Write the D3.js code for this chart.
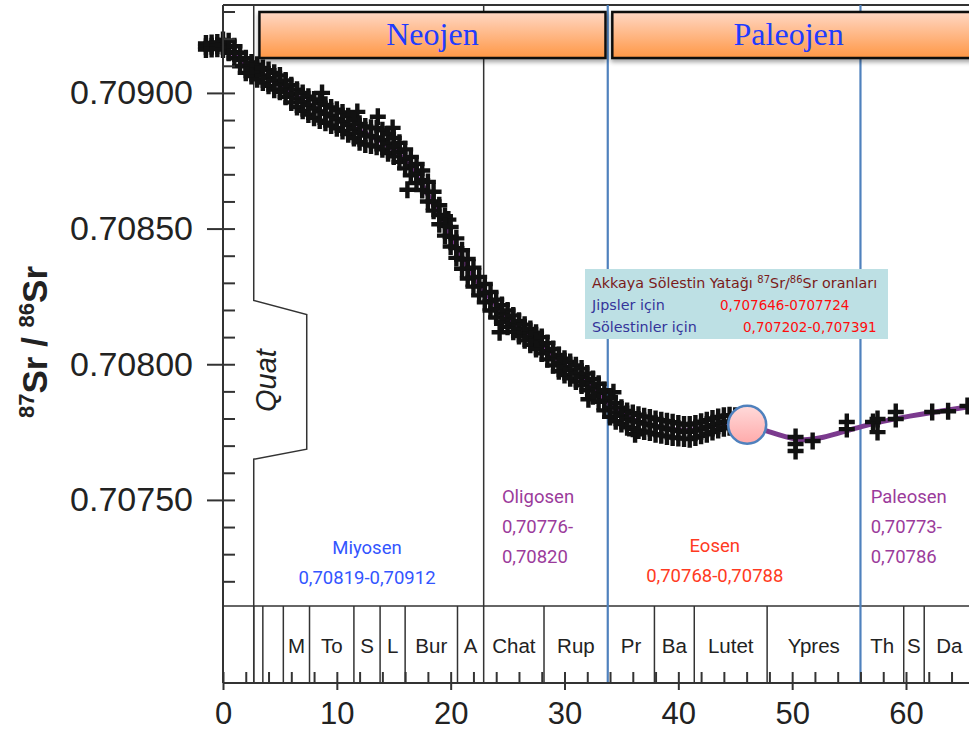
<!DOCTYPE html>
<html>
<head>
<meta charset="utf-8">
<script src="https://cdn.jsdelivr.net/npm/d3@7"></script>
<style>
  body { margin: 0; background: #fff; }
  svg { display: block; }
</style>
</head>
<body>
<svg id="chart" width="969" height="733"></svg>
<script>
// ages in Ma, ratios 87Sr/86Sr
var samples = [
  [-1.5, 0.709182, 0.709170, 0.709160], [-1.0, 0.709184, 0.709172, 0.709162], [-0.5, 0.709186, 0.709174, 0.709163],
  [0.0, 0.709195, 0.709176, 0.709160], [0.5, 0.709190, 0.709168, 0.709148], [1.0, 0.709172, 0.709150, 0.709128],
  [1.5, 0.709148, 0.709122, 0.709098], [2.0, 0.709128, 0.709100, 0.709074], [2.5, 0.709112, 0.709088, 0.709062],
  [3.0, 0.709104, 0.709076, 0.709050], [3.5, 0.709092, 0.709064, 0.709038], [4.0, 0.709084, 0.709055, 0.709026],
  [4.5, 0.709074, 0.709046, 0.709012], [5.0, 0.709064, 0.709034, 0.709004], [5.5, 0.709046, 0.709016, 0.708986],
  [6.0, 0.709028, 0.708997, 0.708965], [6.5, 0.709012, 0.708980, 0.708948], [7.0, 0.709000, 0.708967, 0.708934],
  [7.5, 0.708986, 0.708954, 0.708920], [8.0, 0.708976, 0.708942, 0.708908], [8.5, 0.708964, 0.708932, 0.708898],
  [9.0, 0.708956, 0.708923, 0.708890], [9.5, 0.708946, 0.708914, 0.708880], [10.0, 0.708938, 0.708904, 0.708870],
  [10.5, 0.708928, 0.708894, 0.708860], [11.0, 0.708914, 0.708882, 0.708848], [11.5, 0.708900, 0.708867, 0.708834],
  [12.0, 0.708886, 0.708852, 0.708818], [12.5, 0.708876, 0.708843, 0.708810], [13.0, 0.708872, 0.708840, 0.708806],
  [13.5, 0.708870, 0.708836, 0.708802], [14.0, 0.708862, 0.708826, 0.708792], [14.5, 0.708848, 0.708813, 0.708778],
  [15.0, 0.708834, 0.708800, 0.708766], [15.5, 0.708816, 0.708782, 0.708746], [16.0, 0.708792, 0.708757, 0.708722],
  [16.5, 0.708764, 0.708730, 0.708696], [17.0, 0.708738, 0.708702, 0.708668], [17.5, 0.708714, 0.708678, 0.708642],
  [18.0, 0.708672, 0.708635, 0.708600], [18.5, 0.708636, 0.708600, 0.708566], [19.0, 0.708586, 0.708550, 0.708516],
  [19.5, 0.708546, 0.708510, 0.708474], [20.0, 0.708506, 0.708470, 0.708434], [20.5, 0.708464, 0.708428, 0.708392],
  [21.0, 0.708420, 0.708386, 0.708352], [21.5, 0.708388, 0.708352, 0.708316], [22.0, 0.708356, 0.708320, 0.708286],
  [22.5, 0.708322, 0.708288, 0.708254], [23.0, 0.708296, 0.708262, 0.708228], [23.5, 0.708266, 0.708232, 0.708198],
  [24.0, 0.708238, 0.708205, 0.708172], [24.5, 0.708218, 0.708187, 0.708156], [25.0, 0.708198, 0.708168, 0.708138],
  [25.5, 0.708180, 0.708150, 0.708120], [26.0, 0.708160, 0.708132, 0.708104], [26.5, 0.708146, 0.708117, 0.708088],
  [27.0, 0.708130, 0.708101, 0.708072], [27.5, 0.708116, 0.708086, 0.708056], [28.0, 0.708100, 0.708070, 0.708040],
  [28.5, 0.708078, 0.708048, 0.708018], [29.0, 0.708056, 0.708025, 0.707996], [29.5, 0.708034, 0.708004, 0.707974],
  [30.0, 0.708020, 0.707990, 0.707960], [30.5, 0.708008, 0.707978, 0.707948], [31.0, 0.707996, 0.707966, 0.707936],
  [31.5, 0.707984, 0.707953, 0.707922], [32.0, 0.707966, 0.707935, 0.707904], [32.5, 0.707946, 0.707914, 0.707882],
  [33.0, 0.707928, 0.707895, 0.707862], [33.5, 0.707904, 0.707866, 0.707830], [34.0, 0.707878, 0.707840, 0.707806],
  [34.5, 0.707856, 0.707822, 0.707790], [35.0, 0.707840, 0.707810, 0.707780], [35.5, 0.707828, 0.707798, 0.707768],
  [36.0, 0.707820, 0.707792, 0.707762], [36.5, 0.707814, 0.707786, 0.707756], [37.0, 0.707808, 0.707781, 0.707752],
  [37.5, 0.707804, 0.707776, 0.707748], [38.0, 0.707798, 0.707771, 0.707742], [38.5, 0.707794, 0.707767, 0.707738],
  [39.0, 0.707790, 0.707762, 0.707734], [39.5, 0.707786, 0.707758, 0.707730], [40.0, 0.707782, 0.707754, 0.707728],
  [40.5, 0.707778, 0.707751, 0.707726], [41.0, 0.707778, 0.707751, 0.707724], [41.5, 0.707782, 0.707756, 0.707730],
  [42.0, 0.707788, 0.707762, 0.707736], [42.5, 0.707794, 0.707768, 0.707742], [43.0, 0.707800, 0.707775, 0.707750],
  [43.5, 0.707806, 0.707782, 0.707758], [44.0, 0.707810, 0.707787, 0.707764], [44.5, 0.707812, 0.707789, 0.707768],
  [45.0, 0.707810, 0.707790, 0.707770],
  [50.3, 0.707732, 0.707706, 0.707680], [51.8, 0.707717], [54.8, 0.707787, 0.707761],
  [57.1, 0.707787], [57.5, 0.707798, 0.707750], [59.1, 0.707824, 0.707798],
  [62.3, 0.707824], [63.7, 0.707827], [65.4, 0.707846]
];

// scattered measurements sticking out of the band
var strays = [
  [8.7, 0.709000], [11.8, 0.708930], [13.6, 0.708912], [14.9, 0.708871], [16.2, 0.708643],
  [19.8, 0.708533], [24.3, 0.708118], [32.1, 0.707871], [34.3, 0.707897], [36.2, 0.707742]
];

var trend = [
  [-1.5, 0.709172], [0, 0.709176], [1.5, 0.709122], [3, 0.709076], [5, 0.709034], [7, 0.708967],
  [9, 0.708923], [11, 0.708882], [13, 0.708840], [15, 0.708800], [17, 0.708702], [19, 0.708550],
  [21, 0.708386], [23, 0.708262], [25, 0.708168], [27, 0.708101], [29, 0.708025], [31, 0.707966],
  [33, 0.707895], [35, 0.707808], [37, 0.707781], [39, 0.707762], [41, 0.707751], [43, 0.707775],
  [44.5, 0.707789], [46.1, 0.707776], [47.8, 0.707754], [50.4, 0.707717], [52.5, 0.707724],
  [56, 0.707772], [60.1, 0.707809], [65.6, 0.707844]
];

var stageBounds = [2.7, 3.5, 5.3, 7.6, 11.5, 13.8, 16.0, 20.6, 22.9, 28.2, 33.8, 37.9, 41.4, 47.8, 56.0, 59.8, 61.6, 66.0];
var stageNames = ["", "", "M", "To", "S", "L", "Bur", "A", "Chat", "Rup", "Pr", "Ba", "Lutet", "Ypres", "Th", "S", "Da"];

var eras = [{ name: "Neojen", from: 3.2, to: 33.6 }, { name: "Paleojen", from: 34.2, to: 67 }];

var epochLabels = [
  { lines: ["Miyosen", "0,70819-0,70912"], at: 12.65, y: 0.707301, anchor: "middle", color: "#3355ff" },
  { lines: ["Oligosen", "0,70776-", "0,70820"], at: 24.5, y: 0.707489, anchor: "start", color: "#9b3b9b" },
  { lines: ["Eosen", "0,70768-0,70788"], at: 43.2, y: 0.707308, anchor: "middle", color: "#ff3a22" },
  { lines: ["Paleosen", "0,70773-", "0,70786"], at: 56.9, y: 0.707489, anchor: "start", color: "#9b3b9b" }
];

var sample = { age: 46.05, ratio: 0.707777 };

var yMajor = [0.7075, 0.7080, 0.7085, 0.7090];
var xMajor = [0, 10, 20, 30, 40, 50, 60];

var svg = d3.select("#chart");
var W = 969;
var plotLeft = 223, plotTop = 5, panelBottom = 606, axisY = 683;

var x = d3.scaleLinear().domain([0, 60]).range([plotLeft, 906]);
var y = d3.scaleLinear().domain([0.707109, 0.709324]).range([panelBottom, plotTop]);

var defs = svg.append("defs");
var eraGrad = defs.append("linearGradient").attr("id", "eraGrad").attr("x1", 0).attr("y1", 0).attr("x2", 0).attr("y2", 1);
eraGrad.append("stop").attr("offset", "0%").attr("stop-color", "#ffd7c4");
eraGrad.append("stop").attr("offset", "100%").attr("stop-color", "#ff9745");
var dotGrad = defs.append("linearGradient").attr("id", "dotGrad").attr("x1", 0).attr("y1", 0).attr("x2", 0).attr("y2", 1);
dotGrad.append("stop").attr("offset", "0%").attr("stop-color", "#ffdada");
dotGrad.append("stop").attr("offset", "100%").attr("stop-color", "#ffaaaa");
var shadow = defs.append("filter").attr("id", "shadow").attr("x", "-5%").attr("y", "-20%").attr("width", "110%").attr("height", "160%");
shadow.append("feDropShadow").attr("dx", 0).attr("dy", 3).attr("stdDeviation", 2).attr("flood-color", "#000").attr("flood-opacity", 0.35);

/* frame */
svg.append("line").attr("x1", plotLeft).attr("x2", W).attr("y1", plotTop).attr("y2", plotTop).attr("stroke", "#333").attr("stroke-width", 2);
svg.append("line").attr("x1", plotLeft).attr("x2", W).attr("y1", panelBottom).attr("y2", panelBottom).attr("stroke", "#333").attr("stroke-width", 1.5);

/* stage boundaries in the stage strip */
svg.append("g").selectAll("line")
  .data(stageBounds.filter(function(d) { return d !== 22.9 && d !== 33.8 && d !== 56.0; }))
  .enter().append("line")
  .attr("x1", function(d) { return x(d); }).attr("x2", function(d) { return x(d); })
  .attr("y1", panelBottom).attr("y2", axisY)
  .attr("stroke", "#333").attr("stroke-width", 1.5);

svg.append("g").selectAll("text")
  .data(stageNames.map(function(n, i) { return { name: n, a: stageBounds[i], b: stageBounds[i + 1] }; }))
  .enter().append("text")
  .attr("x", function(d) { return (x(d.a) + x(d.b)) / 2; })
  .attr("y", 653)
  .attr("text-anchor", "middle")
  .style("font", "20.5px 'Liberation Sans', Arial, sans-serif")
  .style("fill", "#222")
  .text(function(d) { return d.name; });

/* Quat bracket */
var q = x(2.7);
svg.append("path")
  .attr("d", "M" + q + "," + plotTop + "V" + y(0.708235) + "L" + (q + 53) + "," + y(0.708183) +
    "V" + y(0.707687) + "L" + q + "," + y(0.707650) + "V" + axisY)
  .attr("fill", "none").attr("stroke", "#333").attr("stroke-width", 1.5);
svg.append("text")
  .attr("transform", "translate(" + (q + 22) + "," + y(0.707940) + ") rotate(-90)")
  .attr("text-anchor", "middle")
  .style("font", "italic 29px 'Liberation Sans', Arial, sans-serif")
  .style("fill", "#222")
  .text("Quat");

/* epoch boundaries */
svg.append("line").attr("x1", x(22.9)).attr("x2", x(22.9)).attr("y1", plotTop).attr("y2", axisY)
  .attr("stroke", "#333").attr("stroke-width", 1.5);
svg.append("g").selectAll("line").data([33.8, 56.0]).enter().append("line")
  .attr("x1", function(d) { return x(d); }).attr("x2", function(d) { return x(d); })
  .attr("y1", plotTop).attr("y2", axisY)
  .attr("stroke", "#4f81bd").attr("stroke-width", 2.2);

/* smoothed trend */
svg.append("path")
  .datum(trend)
  .attr("d", d3.line().x(function(d) { return x(d[0]); }).y(function(d) { return y(d[1]); }).curve(d3.curveBasis))
  .attr("fill", "none").attr("stroke", "#7b3a8e").attr("stroke-width", 5);

/* crosses */
var points = strays.slice();
samples.forEach(function(r) {
  for (var i = 1; i < r.length; i++) points.push([r[0], r[i]]);
});
svg.append("g").selectAll("path")
  .data(points)
  .enter().append("path")
  .attr("transform", function(d) { return "translate(" + x(d[0]) + "," + y(d[1]) + ")"; })
  .attr("d", "M-8,0H8M0,-8.5V8.5")
  .attr("stroke", "#111").attr("stroke-width", 4.4).attr("fill", "none");

/* sample circle */
svg.append("circle")
  .attr("cx", x(sample.age)).attr("cy", y(sample.ratio)).attr("r", 19)
  .attr("fill", "url(#dotGrad)").attr("stroke", "#4f81bd").attr("stroke-width", 2.5);

/* era bars */
var era = svg.append("g").selectAll("g").data(eras).enter().append("g");
era.append("rect")
  .attr("x", function(d) { return x(d.from); })
  .attr("y", 12)
  .attr("width", function(d) { return x(d.to) - x(d.from); })
  .attr("height", 46)
  .attr("fill", "url(#eraGrad)")
  .attr("stroke", "#111").attr("stroke-width", 2.5)
  .attr("filter", "url(#shadow)");
era.append("text")
  .attr("x", function(d) { return (x(d.from) + Math.min(x(d.to), W + 12)) / 2 - (d.to > 60 ? 8 : 0); })
  .attr("y", 45)
  .attr("text-anchor", "middle")
  .style("font", "32px 'Liberation Serif', 'DejaVu Serif', serif")
  .style("fill", "#1f3cff")
  .text(function(d) { return d.name; });

/* epoch value labels */
var ep = svg.append("g").selectAll("text").data(epochLabels).enter().append("text")
  .attr("x", function(d) { return x(d.at); })
  .attr("y", function(d) { return y(d.y); })
  .attr("text-anchor", function(d) { return d.anchor; })
  .style("font", "18.5px Roboto, 'Noto Sans', sans-serif")
  .style("fill", function(d) { return d.color; });
ep.selectAll("tspan").data(function(d) { return d.lines.map(function(l) { return { l: l, d: d }; }); })
  .enter().append("tspan")
  .attr("x", function(t) { return x(t.d.at); })
  .attr("dy", function(t, i) { return i === 0 ? 0 : 30; })
  .text(function(t) { return t.l; });

/* info box */
var box = svg.append("g").attr("transform", "translate(585,269)");
box.append("rect").attr("width", 303).attr("height", 70).attr("fill", "#bde0e4");
var boxFont = "14.3px 'DejaVu Sans', 'Noto Sans', sans-serif";
var numFont = "13.5px 'DejaVu Sans', 'Noto Sans', sans-serif";
var t1 = box.append("text").attr("x", 7).attr("y", 19).style("font", boxFont).style("fill", "#7a1a1a");
t1.append("tspan").text("Akkaya Sölestin Yatağı ");
t1.append("tspan").attr("dy", -5).style("font-size", "10px").text("87");
t1.append("tspan").attr("dy", 5).text("Sr/");
t1.append("tspan").attr("dy", -5).style("font-size", "10px").text("86");
t1.append("tspan").attr("dy", 5).text("Sr oranları");
box.append("text").attr("x", 7).attr("y", 41).style("font", boxFont).style("fill", "#34349a").text("Jipsler için");
box.append("text").attr("x", 135).attr("y", 41).style("font", numFont).style("fill", "#ff0d0d").text("0,707646-0707724");
box.append("text").attr("x", 7).attr("y", 63).style("font", boxFont).style("fill", "#34349a").text("Sölestinler için");
box.append("text").attr("x", 158).attr("y", 63).style("font", numFont).style("fill", "#ff0d0d").text("0,707202-0,707391");

/* x axis */
var xMinor = d3.range(0, 66, 2);
var gxMinor = svg.append("g").attr("transform", "translate(0," + axisY + ")")
  .call(d3.axisTop(x).tickValues(xMinor).tickSize(11).tickSizeOuter(0).tickFormat(""));
var gx = svg.append("g").attr("transform", "translate(0," + axisY + ")")
  .call(d3.axisBottom(x).tickValues(xMajor).tickSize(7).tickSizeOuter(0).tickPadding(12).tickFormat(d3.format("d")));
gxMinor.select(".domain").attr("d", "M" + plotLeft + ",0H" + W);
gx.select(".domain").remove();
gxMinor.select(".domain").attr("stroke", "#333").attr("stroke-width", 2);
gx.selectAll("text").style("font", "31px 'Liberation Sans', Arial, sans-serif").style("fill", "#222");

/* y axis */
var yMinor = d3.range(7072, 7094).map(function(d) { return d / 10000; });
var gyMinor = svg.append("g").attr("transform", "translate(" + plotLeft + ",0)")
  .call(d3.axisRight(y).tickValues(yMinor).tickSize(12).tickSizeOuter(0).tickFormat(""));
gyMinor.select(".domain").attr("d", "M0," + plotTop + "V" + axisY).attr("stroke", "#333").attr("stroke-width", 2);
var gy = svg.append("g").attr("transform", "translate(" + plotLeft + ",0)")
  .call(d3.axisLeft(y).tickValues(yMajor).tickSize(16).tickSizeOuter(0).tickPadding(14).tickFormat(d3.format(".5f")));
gy.select(".domain").remove();
svg.selectAll("g.tick line").attr("stroke", "#333").attr("stroke-width", 2);
gy.selectAll("text").style("font", "34px 'Liberation Sans', Arial, sans-serif").style("fill", "#222");

/* y title */
var yt = svg.append("text")
  .attr("transform", "translate(47,342) rotate(-90)")
  .attr("text-anchor", "middle")
  .style("font", "bold 35px 'Liberation Sans', Arial, sans-serif")
  .style("fill", "#222");
yt.append("tspan").attr("dy", -13).style("font-size", "22px").text("87");
yt.append("tspan").attr("dy", 13).text("Sr / ");
yt.append("tspan").attr("dy", -13).style("font-size", "22px").text("86");
yt.append("tspan").attr("dy", 13).text("Sr");
</script>
</body>
</html>
